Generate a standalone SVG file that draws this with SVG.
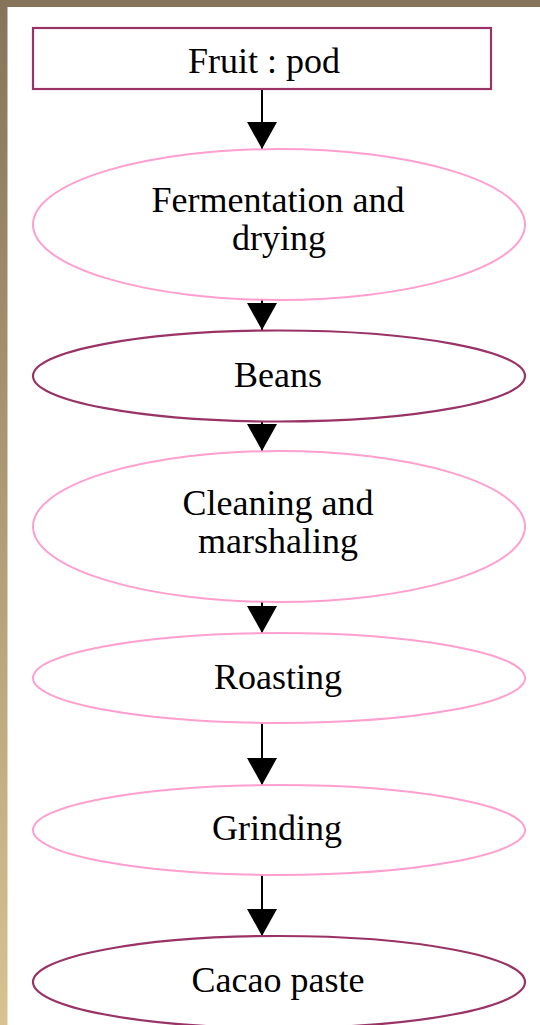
<svg xmlns="http://www.w3.org/2000/svg" width="540" height="1025" viewBox="0 0 540 1025">
<defs>
<linearGradient id="side" x1="0" y1="0" x2="0" y2="1">
<stop offset="0" stop-color="#85745a"/>
<stop offset="1" stop-color="#d8c291"/>
</linearGradient>
<marker id="ah" viewBox="0 0 27 30" refX="27" refY="15" markerWidth="27" markerHeight="30" markerUnits="userSpaceOnUse" orient="auto">
<path d="M0,0 L27,15 L0,30 Z" fill="#000"/>
</marker>
<style>
.lbl{font-family:"Liberation Serif","Times New Roman",serif;font-size:36px;fill:#000;text-anchor:middle}
.pink{fill:#fff;stroke:#ff9fcf;stroke-width:2}
.mauve{fill:#fff;stroke:#993366;stroke-width:2.2}
.edge{stroke:#000;stroke-width:2;fill:none}
</style>
</defs>
<rect x="0" y="0" width="540" height="1025" fill="#fff"/>
<rect x="0" y="0" width="540" height="7" fill="#85745a"/>
<rect x="0" y="0" width="7.5" height="1025" fill="url(#side)"/>

<g id="connectors">
<line class="edge" x1="262" y1="89" x2="262" y2="149" marker-end="url(#ah)"/>
<line class="edge" x1="262" y1="300" x2="262" y2="330" marker-end="url(#ah)"/>
<line class="edge" x1="262" y1="422" x2="262" y2="451" marker-end="url(#ah)"/>
<line class="edge" x1="262" y1="602" x2="262" y2="633" marker-end="url(#ah)"/>
<line class="edge" x1="262" y1="723" x2="262" y2="785" marker-end="url(#ah)"/>
<line class="edge" x1="262" y1="875" x2="262" y2="936" marker-end="url(#ah)"/>
</g>

<g id="node-fruit">
<rect class="mauve" x="33" y="28" width="458" height="61"/>
<text class="lbl" x="264" y="73">Fruit : pod</text>
</g>
<g id="node-fermentation">
<ellipse class="pink" cx="279" cy="224.5" rx="246" ry="75.5"/>
<text class="lbl" x="278" y="212">Fermentation and</text>
<text class="lbl" x="279" y="250">drying</text>
</g>
<g id="node-beans">
<ellipse class="mauve" cx="279" cy="376" rx="246" ry="45.5"/>
<text class="lbl" x="278" y="387">Beans</text>
</g>
<g id="node-cleaning">
<ellipse class="pink" cx="279" cy="526.5" rx="246" ry="75.5"/>
<text class="lbl" x="278" y="515">Cleaning and</text>
<text class="lbl" x="278" y="553">marshaling</text>
</g>
<g id="node-roasting">
<ellipse class="pink" cx="279" cy="678" rx="246" ry="45"/>
<text class="lbl" x="278" y="689">Roasting</text>
</g>
<g id="node-grinding">
<ellipse class="pink" cx="279" cy="830" rx="246" ry="45"/>
<text class="lbl" x="277" y="840">Grinding</text>
</g>
<g id="node-cacao">
<ellipse class="mauve" cx="279" cy="982" rx="246" ry="46"/>
<text class="lbl" x="278" y="992">Cacao paste</text>
</g>
</svg>
